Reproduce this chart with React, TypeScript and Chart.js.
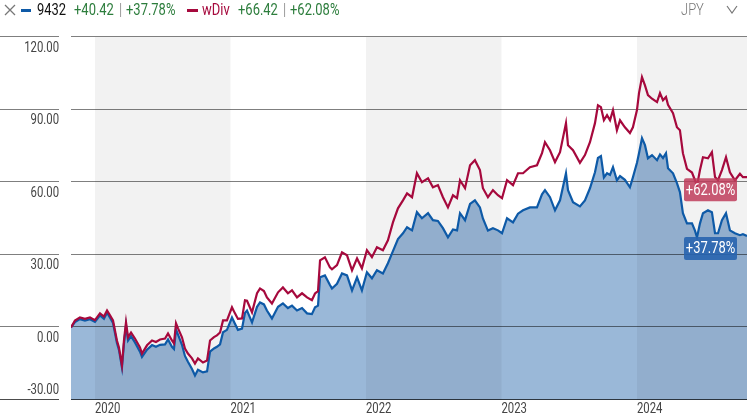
import { useEffect, useRef } from "react";
import { Chart, registerables } from "chart.js";

Chart.register(...registerables);

const FONT = "Roboto, 'Liberation Sans', sans-serif";
const SQUEEZE = 0.81; // the original uses a condensed face

// time axis in decimal years
const dates = [
    2019.823, 2019.852, 2019.889, 2019.926, 2019.963, 2020.000, 2020.037, 2020.066, 2020.089, 2020.111,
    2020.133, 2020.162, 2020.177, 2020.199, 2020.214, 2020.229, 2020.244, 2020.266, 2020.295, 2020.332,
    2020.347, 2020.384, 2020.421, 2020.450, 2020.480, 2020.517, 2020.539, 2020.568, 2020.583, 2020.598,
    2020.613, 2020.642, 2020.664, 2020.686, 2020.716, 2020.738, 2020.760, 2020.797, 2020.827, 2020.849,
    2020.878, 2020.900, 2020.923, 2020.945, 2020.974, 2021.011, 2021.033, 2021.055, 2021.085, 2021.107,
    2021.122, 2021.159, 2021.196, 2021.218, 2021.247, 2021.269, 2021.306, 2021.351, 2021.387, 2021.424,
    2021.454, 2021.491, 2021.528, 2021.565, 2021.601, 2021.624, 2021.646, 2021.661, 2021.697, 2021.734,
    2021.749, 2021.786, 2021.823, 2021.860, 2021.897, 2021.934, 2021.970, 2022.007, 2022.044, 2022.081,
    2022.125, 2022.162, 2022.199, 2022.236, 2022.273, 2022.303, 2022.340, 2022.376, 2022.413, 2022.458,
    2022.494, 2022.531, 2022.568, 2022.605, 2022.642, 2022.672, 2022.694, 2022.731, 2022.768, 2022.804,
    2022.841, 2022.863, 2022.900, 2022.937, 2022.974, 2023.004, 2023.041, 2023.085, 2023.122, 2023.159,
    2023.210, 2023.262, 2023.299, 2023.321, 2023.358, 2023.395, 2023.432, 2023.476, 2023.491, 2023.528,
    2023.579, 2023.616, 2023.653, 2023.690, 2023.712, 2023.734, 2023.756, 2023.779, 2023.801, 2023.823,
    2023.852, 2023.875, 2023.911, 2023.948, 2023.970, 2024.000, 2024.015, 2024.037, 2024.059, 2024.081,
    2024.111, 2024.148, 2024.170, 2024.192, 2024.214, 2024.229, 2024.266, 2024.295, 2024.317, 2024.339,
    2024.369, 2024.406, 2024.428, 2024.443, 2024.465, 2024.487, 2024.524, 2024.553, 2024.576, 2024.598,
    2024.627, 2024.657, 2024.686, 2024.723, 2024.760, 2024.782, 2024.812,
];

// 9432 price return (%)
const priceReturn = [
    0, 2.2, 3.4, 2.8, 3.4, 2.3, 5.0, 3.6, 6.1, 4.0,
    1.8, -6.4, -9.3, -16.6, -6.6, 0.8, -5.4, -3.6, -6.2, -10.0,
    -12.2, -9.2, -7.3, -8.0, -7.2, -7.0, -5.0, -8.0, -8.9, -0.8,
    -3.0, -7.2, -11.8, -14.2, -17.2, -19.9, -17.5, -18.6, -18.2, -10.0,
    -8.7, -8.0, -7.0, -2.0, -1.0, 4.1, 1.5, -1.0, -0.5, 6.0,
    7.0, 2.1, 8.5, 10.3, 9.5, 7.0, 3.7, 8.5, 9.9, 8.0,
    9.0, 7.0, 8.0, 5.8, 5.5, 8.3, 9.0, 20.7, 21.5, 17.5,
    16.1, 18.0, 22.3, 21.5, 15.3, 20.7, 15.3, 22.8, 20.3, 23.6,
    22.3, 26.5, 31.5, 36.5, 38.9, 41.4, 40.1, 47.6, 45.1, 47.2,
    44.3, 44.0, 41.0, 37.2, 40.5, 40.1, 47.2, 44.3, 51.0, 52.5,
    49.6, 45.0, 40.0, 41.0, 40.1, 38.9, 45.1, 43.4, 47.0, 48.4,
    49.6, 49.6, 55.0, 56.7, 53.8, 48.4, 52.5, 63.7, 56.7, 51.7,
    50.0, 52.5, 57.5, 64.1, 70.0, 70.8, 62.0, 63.7, 63.0, 66.2,
    60.8, 62.5, 61.0, 57.9, 62.0, 68.0, 72.0, 78.2, 75.3, 69.9,
    71.2, 69.1, 71.5, 70.0, 72.0, 65.8, 63.7, 59.6, 55.9, 47.2,
    43.0, 43.0, 40.0, 37.2, 43.0, 47.2, 48.4, 47.6, 38.9, 38.9,
    44.3, 47.2, 40.1, 38.9, 38.1, 38.5, 37.78,
];

// wDiv total return (%)
const totalReturn = [
    0, 2.8, 4.1, 3.5, 4.1, 3.0, 5.8, 4.5, 7.0, 5.0,
    2.9, -5.4, -8.3, -15.7, -5.4, 2.1, -4.1, -2.1, -4.6, -8.3,
    -10.8, -7.4, -5.4, -6.0, -5.0, -4.6, -2.5, -5.4, -6.6, 1.7,
    -0.4, -4.1, -8.7, -10.8, -12.8, -14.9, -12.8, -14.5, -13.7, -5.4,
    -4.0, -3.3, -2.1, 2.9, 2.9, 8.3, 5.8, 3.5, 3.7, 11.2,
    11.0, 6.2, 14.1, 16.1, 15.0, 12.4, 9.9, 14.5, 16.5, 14.1,
    15.3, 12.4, 14.1, 12.4, 11.2, 14.0, 15.0, 27.7, 29.0, 24.8,
    24.0, 25.7, 31.0, 29.8, 23.6, 28.5, 24.4, 31.9, 29.0, 33.1,
    31.9, 36.0, 43.4, 49.2, 52.5, 55.4, 53.8, 63.7, 60.0, 61.6,
    57.9, 58.8, 53.8, 49.6, 54.6, 53.4, 60.8, 57.5, 67.0, 69.1,
    65.0, 57.5, 53.8, 56.7, 54.6, 53.4, 60.8, 58.8, 63.7, 63.7,
    66.2, 67.0, 72.0, 76.5, 73.2, 68.3, 72.4, 84.4, 75.3, 73.2,
    68.0, 71.2, 76.5, 84.4, 91.8, 91.0, 85.6, 87.7, 85.6, 89.8,
    81.5, 85.6, 82.7, 80.3, 82.7, 89.8, 96.8, 103.4, 100.0, 96.0,
    94.5, 93.1, 96.8, 93.9, 95.2, 92.0, 88.5, 82.7, 81.5, 72.0,
    65.5, 64.0, 60.8, 58.5, 65.0, 70.3, 69.9, 72.4, 62.1, 60.8,
    65.0, 70.3, 64.1, 60.8, 63.5, 62.1, 62.08,
];

const yTicks = [-30, 0, 30, 60, 90, 120];
const yearTicks = [2020, 2021, 2022, 2023, 2024];
const shadedYears = [2020, 2022, 2024];

const priceChange = "+40.42";
const pricePct = "+37.78%";
const totalChange = "+66.42";
const totalPct = "+62.08%";

const BLUE = "#0e5aa7";
const RED = "#a6093d";
const GREEN = "#2c7d3c";
const FILL = "#9ab8d8";

// squeezed canvas text
const drawText = (ctx: CanvasRenderingContext2D, text: string, x: number, y: number, align: CanvasTextAlign) => {
    ctx.save();
    ctx.translate(x, y);
    ctx.scale(SQUEEZE, 1);
    ctx.textAlign = align;
    ctx.fillText(text, 0, 0);
    ctx.restore();
};

const decorPlugin = {
    id: "decor",
    afterDatasetDraw(chart: any, args: any) {
        if (args.index !== 2) return;
        const {ctx, chartArea: a, scales: {x, y}} = chart;
        ctx.save();
        // alternating year bands
        ctx.fillStyle = "rgba(0,0,0,0.05)";
        shadedYears.forEach((yr) => {
            const x0 = Math.max(a.left, x.getPixelForValue(yr));
            const x1 = Math.min(a.right, x.getPixelForValue(yr + 1));
            if (x1 > x0) ctx.fillRect(x0, a.top, x1 - x0, a.bottom - a.top);
        });
        // grid lines, also drawn out to the left edge
        ctx.lineWidth = 1;
        yTicks.forEach((v) => {
            const py = Math.round(y.getPixelForValue(v)) - 0.5;
            ctx.strokeStyle = v === yTicks[0] ? "rgba(0,0,0,0.7)" : "rgba(0,0,0,0.5)";
            ctx.beginPath();
            ctx.moveTo(0, py);
            ctx.lineTo(a.left - 12, py);
            ctx.moveTo(a.left, py);
            ctx.lineTo(a.right, py);
            ctx.stroke();
        });
        ctx.restore();
    },
    afterDraw(chart: any) {
        const {ctx, chartArea: a, scales: {x, y}} = chart;
        ctx.save();
        ctx.font = `14px ${FONT}`;
        ctx.fillStyle = "#444";
        ctx.textBaseline = "middle";
        yTicks.forEach((v) => {
            const py = y.getPixelForValue(v);
            const ly = v === yTicks[0] ? py - 10 : py + 11;
            drawText(ctx, v.toFixed(2), a.left - 12, ly, "right");
        });
        yearTicks.forEach((yr) => {
            const px = x.getPixelForValue(yr);
            if (px >= a.left && px < a.right) drawText(ctx, String(yr), px, a.bottom + 9, "left");
        });
        // end-value tags
        const tags = [
            {v: totalReturn[totalReturn.length - 1], text: totalPct, color: "rgba(190,60,90,0.85)"},
            {v: priceReturn[priceReturn.length - 1], text: pricePct, color: "rgba(40,100,175,0.9)"},
        ];
        tags.forEach((t) => {
            const py = y.getPixelForValue(t.v);
            const bx = a.right - 63;
            const by = py + 1;
            ctx.fillStyle = t.color;
            ctx.beginPath();
            ctx.roundRect(bx, by, 53, 23, 2);
            ctx.fill();
            ctx.fillStyle = "#fff";
            ctx.font = `16px ${FONT}`;
            drawText(ctx, t.text, bx + 26.5, by + 12.5, "center");
        });
        ctx.restore();
    },
};

const App = () => {
    const canvasRef = useRef<HTMLCanvasElement>(null);

    useEffect(() => {
        if (!canvasRef.current) return;
        const pricePts = dates.map((d, i) => ({x: d, y: priceReturn[i]}));
        const totalPts = dates.map((d, i) => ({x: d, y: totalReturn[i]}));

        const chart = new Chart(canvasRef.current, {
            type: "line",
            data: {
                datasets: [
                    {
                        label: "wDiv",
                        data: totalPts,
                        borderColor: RED,
                        borderWidth: 2.2,
                        pointRadius: 0,
                        fill: false,
                        tension: 0,
                    },
                    {
                        label: "9432",
                        data: pricePts,
                        borderColor: BLUE,
                        borderWidth: 2.2,
                        pointRadius: 0,
                        fill: false,
                        tension: 0,
                    },
                    {
                        label: "area",
                        data: pricePts,
                        borderWidth: 0,
                        borderColor: "rgba(0,0,0,0)",
                        backgroundColor: FILL,
                        pointRadius: 0,
                        fill: "start",
                        tension: 0,
                    },
                ],
            },
            options: {
                animation: false,
                responsive: true,
                maintainAspectRatio: false,
                layout: {padding: {left: 71, right: 5, top: 37, bottom: 16}},
                plugins: {legend: {display: false}, tooltip: {enabled: false}},
                scales: {
                    x: {type: "linear", min: dates[0], max: dates[dates.length - 1], display: false},
                    y: {type: "linear", min: -30, max: 120, display: false},
                },
            },
            plugins: [decorPlugin],
        });
        return () => {
            chart.destroy();
        };
    }, []);

    const txt = (left: number, text: string, color: string, extra: any = {}) => (
        <span
            style={{
                position: "absolute",
                left,
                top: 0,
                lineHeight: "20px",
                fontSize: 16,
                color,
                whiteSpace: "nowrap",
                transform: `scaleX(${SQUEEZE})`,
                transformOrigin: "left center",
                ...extra,
            }}
        >
            {text}
        </span>
    );

    return (
        <div style={{position: "fixed", left: 0, top: 0, width: 752, height: 416, background: "#fff", fontFamily: FONT}}>
            <div style={{position: "absolute", left: 0, top: 0, width: 752, height: 416}}>
                <canvas ref={canvasRef}></canvas>
            </div>
            <svg style={{position: "absolute", left: 4, top: 4}} width="12" height="12">
                <path d="M1 1L11 11M11 1L1 11" stroke="#777" strokeWidth="1.3" />
            </svg>
            <div style={{position: "absolute", left: 21, top: 9, width: 10, height: 3, background: BLUE}} />
            {txt(37, "9432", "#111")}
            {txt(74, priceChange, GREEN)}
            {txt(119, "|", "#999")}
            {txt(126, pricePct, GREEN)}
            <div style={{position: "absolute", left: 187, top: 9, width: 11, height: 3, background: RED}} />
            {txt(202, "wDiv", RED)}
            {txt(238, totalChange, GREEN)}
            {txt(283, "|", "#999")}
            {txt(290, totalPct, GREEN)}
            {txt(681, "JPY", "#777", {fontWeight: 300})}
            <svg style={{position: "absolute", left: 726, top: 5}} width="12" height="9">
                <path d="M1 1L6 8L11 1" stroke="#777" strokeWidth="1.2" fill="none" />
            </svg>
        </div>
    );
};

export default App;
